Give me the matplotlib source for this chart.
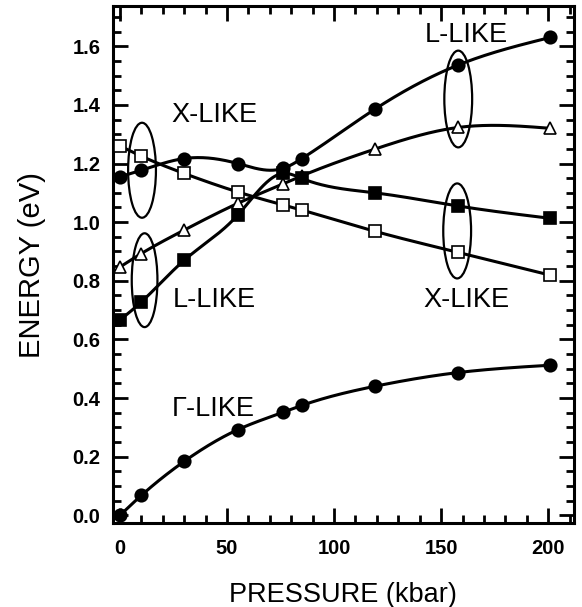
import numpy as np
import matplotlib
matplotlib.use("Agg")
import matplotlib.pyplot as plt
from matplotlib.patches import Ellipse
from matplotlib.ticker import MultipleLocator

plt.rcParams['font.family'] = ['Liberation Sans', 'DejaVu Sans']

# pressure points (kbar)
pressure = [0, 10, 30, 55, 76, 85, 119, 158, 201]

# energies (eV)
gamma_like = [0.0, 0.068, 0.184, 0.292, 0.351, 0.375, 0.440, 0.487, 0.512]
l_circles = [1.155, 1.177, 1.217, 1.200, 1.183, 1.217, 1.385, 1.536, 1.630]
triangles = [0.847, 0.893, 0.973, 1.064, 1.130, 1.158, 1.249, 1.323, 1.320]
open_squares = [1.260, 1.225, 1.166, 1.103, 1.059, 1.041, 0.969, 0.897, 0.819]
filled_squares = [0.666, 0.728, 0.870, 1.024, 1.166, 1.149, 1.100, 1.055, 1.013]

# labels: (text, x, y)
labels = [
    ("L-LIKE", 162, 1.638),
    ("X-LIKE", 44, 1.365),
    ("L-LIKE", 44, 0.734),
    ("X-LIKE", 162, 0.734),
    ("Γ-LIKE", 43.5, 0.362),
]

# ellipses: (x, y, width, height)
ellipses = [
    (10.3, 1.177, 13, 0.324),
    (11.5, 0.802, 12, 0.32),
    (158, 1.42, 13, 0.33),
    (157.5, 0.970, 13, 0.324),
]


def smooth(x, y, n=400):
    # natural cubic spline just for drawing the line through the points
    x = np.asarray(x, float)
    y = np.asarray(y, float)
    k = len(x)
    h = np.diff(x)
    A = np.zeros((k, k))
    b = np.zeros(k)
    A[0, 0] = 1
    A[-1, -1] = 1
    for i in range(1, k - 1):
        A[i, i - 1] = h[i - 1]
        A[i, i] = 2 * (h[i - 1] + h[i])
        A[i, i + 1] = h[i]
        b[i] = 3 * ((y[i + 1] - y[i]) / h[i] - (y[i] - y[i - 1]) / h[i - 1])
    c = np.linalg.solve(A, b)
    xs = np.linspace(x[0], x[-1], n)
    ys = np.empty_like(xs)
    for j, xv in enumerate(xs):
        i = min(np.searchsorted(x, xv, side='right') - 1, k - 2)
        d = xv - x[i]
        bi = (y[i + 1] - y[i]) / h[i] - h[i] * (2 * c[i] + c[i + 1]) / 3
        di = (c[i + 1] - c[i]) / (3 * h[i])
        ys[j] = y[i] + bi * d + c[i] * d ** 2 + di * d ** 3
    return xs, ys


fig = plt.figure(figsize=(5.82, 6.07), dpi=100)
ax = fig.add_axes([0.194, 0.138, 0.792, 0.852])

series = [
    (gamma_like, 'o', 'black', 9),
    (l_circles, 'o', 'black', 9),
    (triangles, '^', 'white', 9),
    (open_squares, 's', 'white', 8),
    (filled_squares, 's', 'black', 8),
]
for vals, m, fc, ms in series:
    xs, ys = smooth(pressure, vals)
    ax.plot(xs, ys, color='black', lw=2.2, zorder=2)
    ax.plot(pressure, vals, linestyle='none', marker=m, markersize=ms,
            markerfacecolor=fc, markeredgecolor='black', markeredgewidth=1.2,
            zorder=3)

for ex, ey, w, h in ellipses:
    ax.add_patch(Ellipse((ex, ey), w, h, fill=False, edgecolor='black',
                         lw=1.6, zorder=4))

for txt, tx, ty in labels:
    ax.text(tx, ty, txt, fontsize=19.5, ha='center', va='center', zorder=5)

ax.set_xlim(-3.3, 212)
ax.set_ylim(-0.027, 1.737)
ax.xaxis.set_major_locator(MultipleLocator(50))
ax.xaxis.set_minor_locator(MultipleLocator(10))
ax.yaxis.set_major_locator(MultipleLocator(0.2))
ax.yaxis.set_minor_locator(MultipleLocator(0.05))
ax.yaxis.set_major_formatter(matplotlib.ticker.FormatStrFormatter('%.1f'))

ax.tick_params(which='both', direction='in', top=True, right=True, width=2)
ax.tick_params(which='major', length=11, labelsize=14.5)
ax.tick_params(axis='x', which='major', pad=11)
ax.tick_params(axis='y', which='major', pad=9)
ax.tick_params(which='minor', length=6)
for lab in ax.get_xticklabels() + ax.get_yticklabels():
    lab.set_fontweight('bold')
for sp in ax.spines.values():
    sp.set_linewidth(2.2)

ax.set_xlabel("PRESSURE (kbar)", fontsize=19.5)
ax.set_ylabel("ENERGY (eV)", fontsize=21)
ax.xaxis.set_label_coords(0.5, -0.114)
ax.yaxis.set_label_coords(-0.145, 0.5)

fig.savefig("out.png", dpi=100)
